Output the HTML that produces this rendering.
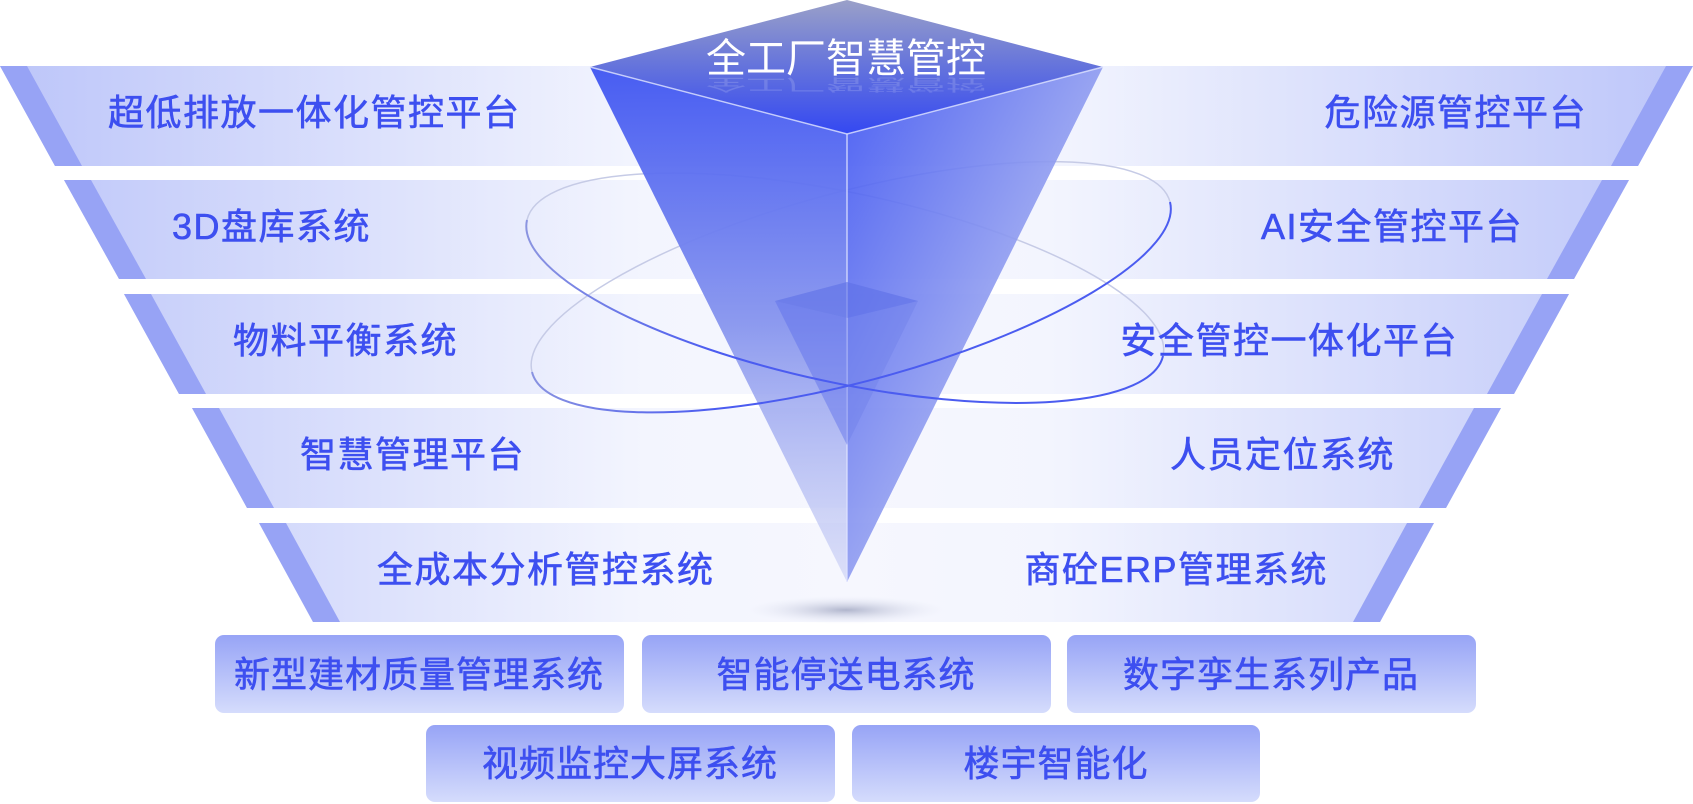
<!DOCTYPE html>
<html><head><meta charset="utf-8">
<style>
html,body{margin:0;padding:0;background:#fff;}
svg{display:block;}
text{font-family:"Liberation Sans","Noto Sans CJK SC",sans-serif;}
</style></head>
<body>
<svg width="1693" height="804" viewBox="0 0 1693 804" xmlns="http://www.w3.org/2000/svg">
<defs>
<linearGradient id="band" x1="0" y1="0" x2="1693" y2="0" gradientUnits="userSpaceOnUse">
<stop offset="0" stop-color="#bcc5f9"/>
<stop offset="0.38" stop-color="#f3f5fe"/>
<stop offset="0.5" stop-color="#f6f7fe"/>
<stop offset="0.62" stop-color="#f3f5fe"/>
<stop offset="1" stop-color="#bcc5f9"/>
</linearGradient>
<linearGradient id="lf" x1="0" y1="0" x2="0" y2="1">
<stop offset="0" stop-color="#3f55f2"/>
<stop offset="0.5" stop-color="#8795ee"/>
<stop offset="1" stop-color="#c7cdf4" stop-opacity="0.6"/>
</linearGradient>
<linearGradient id="rf" x1="0" y1="0" x2="1" y2="1">
<stop offset="0" stop-color="#3c52f2"/>
<stop offset="0.5" stop-color="#8e9bf0"/>
<stop offset="1" stop-color="#c5ccf5" stop-opacity="0.6"/>
</linearGradient>
<linearGradient id="tf" x1="0" y1="0" x2="0" y2="1">
<stop offset="0" stop-color="#9aa0c8"/>
<stop offset="0.5" stop-color="#6473dc"/>
<stop offset="1" stop-color="#3448f2"/>
</linearGradient>
<linearGradient id="box" x1="0" y1="0" x2="0" y2="1">
<stop offset="0" stop-color="#97a4f6"/>
<stop offset="1" stop-color="#d5dcfc"/>
</linearGradient>
<radialGradient id="sh" cx="0.5" cy="0.5" r="0.5">
<stop offset="0" stop-color="#b0b5cc"/>
<stop offset="1" stop-color="#e6e9f7" stop-opacity="0"/>
</radialGradient>
<linearGradient id="ln" x1="520" y1="0" x2="1170" y2="0" gradientUnits="userSpaceOnUse">
<stop offset="0" stop-color="#8d96e0"/>
<stop offset="0.3" stop-color="#4b5cf0"/>
<stop offset="1" stop-color="#4b5cf0"/>
</linearGradient>
</defs>

<g>
<polygon points="0,66 1693,66 1638,166 55,166" fill="url(#band)"/>
<polygon points="0,66 27,66 82,166 55,166" fill="#97a3f5"/>
<polygon points="1693,66 1666,66 1611,166 1638,166" fill="#97a3f5"/>

<polygon points="64,180 1629,180 1574,279 119,279" fill="url(#band)"/>
<polygon points="64,180 91,180 146,279 119,279" fill="#97a3f5"/>
<polygon points="1629,180 1602,180 1547,279 1574,279" fill="#97a3f5"/>

<polygon points="124,294 1569,294 1514,394 179,394" fill="url(#band)"/>
<polygon points="124,294 151,294 206,394 179,394" fill="#97a3f5"/>
<polygon points="1569,294 1542,294 1487,394 1514,394" fill="#97a3f5"/>

<polygon points="192,408 1501,408 1446,508 247,508" fill="url(#band)"/>
<polygon points="192,408 219,408 274,508 247,508" fill="#97a3f5"/>
<polygon points="1501,408 1474,408 1419,508 1446,508" fill="#97a3f5"/>

<polygon points="259,523 1434,523 1380,622 313,622" fill="url(#band)"/>
<polygon points="259,523 286,523 340,622 313,622" fill="#97a3f5"/>
<polygon points="1434,523 1407,523 1353,622 1380,622" fill="#97a3f5"/>
</g>

<!-- back ellipse arcs (light) -->
<path d="M 532,372 A 330 95 -15 0 1 1170,202" fill="none" stroke="#c6cbe6" stroke-width="1.5"/>
<path d="M 527,220 A 325 95 12 0 1 1163,356" fill="none" stroke="#c6cbe6" stroke-width="1.5"/>

<ellipse cx="846" cy="610" rx="100" ry="14" fill="url(#sh)"/>

<polygon points="590,67 847,134 847,582" fill="url(#lf)" opacity="0.95"/>
<polygon points="1103,67 847,134 847,582" fill="url(#rf)" opacity="0.9"/>
<polygon points="590,67 847,0 1103,67 847,134" fill="url(#tf)"/>
<polyline points="590,67 847,134 1103,67" fill="none" stroke="#dfe3ff" stroke-width="1.5" opacity="0.8"/>
<line x1="847" y1="134" x2="847" y2="582" stroke="#dfe3ff" stroke-width="1.5" opacity="0.8"/>
<polygon points="775,301 847,318 847,445" fill="#5a6cea" opacity="0.45"/>
<polygon points="918,301 847,318 847,445" fill="#6a7ae8" opacity="0.35"/>
<polygon points="775,301 847,282 918,301 847,318" fill="#5d6fe6" opacity="0.6"/>

<!-- front ellipse arcs (blue) -->
<path d="M 532,372 A 330 95 -15 0 0 1170,202" fill="none" stroke="url(#ln)" stroke-width="2"/>
<path d="M 527,220 A 325 95 12 0 0 1163,356" fill="none" stroke="url(#ln)" stroke-width="2"/>

<text x="846" y="72" font-size="40" fill="#fff" text-anchor="middle">全工厂智慧管控</text>
<text x="846" y="82" font-size="40" fill="#fff" text-anchor="middle" opacity="0.15" transform="matrix(1 0 0 -0.4 0 112)">全工厂智慧管控</text>

<g font-size="36" fill="#3d4ff0" stroke="#3d4ff0" stroke-width="0.6" letter-spacing="1.5">
<text x="108" y="125">超低排放一体化管控平台</text>
<text x="172" y="239">3D盘库系统</text>
<text x="233" y="353">物料平衡系统</text>
<text x="300" y="467">智慧管理平台</text>
<text x="377" y="582">全成本分析管控系统</text>
<g text-anchor="end">
<text x="1587" y="125">危险源管控平台</text>
<text x="1523" y="239">AI安全管控平台</text>
<text x="1458" y="353">安全管控一体化平台</text>
<text x="1395" y="467">人员定位系统</text>
<text x="1328" y="582">商砼ERP管理系统</text>
</g>
</g>

<g fill="url(#box)">
<rect x="215" y="635" width="409" height="78" rx="9"/>
<rect x="642" y="635" width="409" height="78" rx="9"/>
<rect x="1067" y="635" width="409" height="78" rx="9"/>
<rect x="426" y="725" width="409" height="77" rx="9"/>
<rect x="852" y="725" width="408" height="77" rx="9"/>
</g>
<g font-size="36" fill="#3d4ff0" stroke="#3d4ff0" stroke-width="0.6" letter-spacing="1" text-anchor="middle">
<text x="419" y="687">新型建材质量管理系统</text>
<text x="846" y="687">智能停送电系统</text>
<text x="1271" y="687">数字孪生系列产品</text>
<text x="630" y="776">视频监控大屏系统</text>
<text x="1056" y="776">楼宇智能化</text>
</g>
</svg>
</body></html>
